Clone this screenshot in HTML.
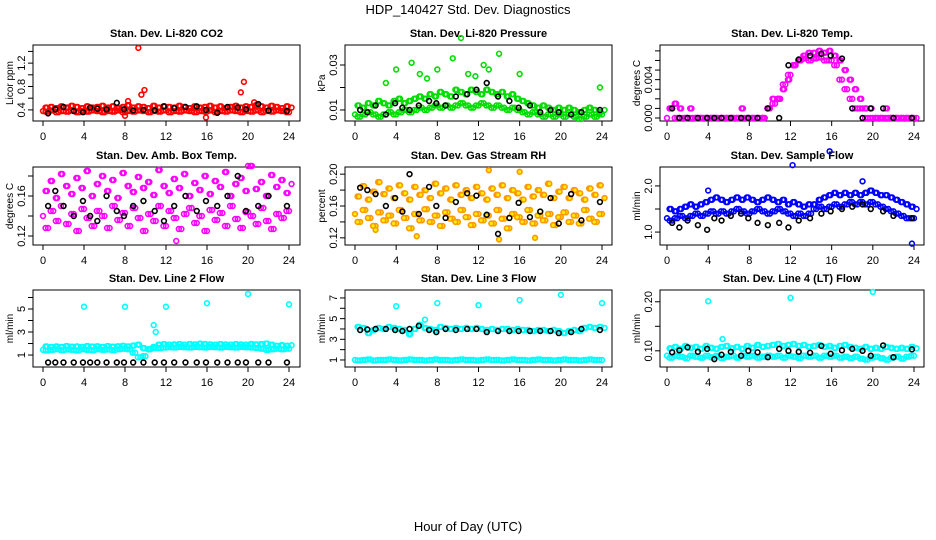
<!DOCTYPE html>
<html><head><meta charset="utf-8"><style>
html,body{margin:0;padding:0;background:#fff;}
svg{display:block;font-family:"Liberation Sans",sans-serif;}
</style></head><body>
<svg id="chart" width="936" height="540" viewBox="0 0 936 540" xmlns="http://www.w3.org/2000/svg">
<text x="468" y="14" text-anchor="middle" font-size="13">HDP_140427  Std. Dev. Diagnostics</text>
<text x="468" y="531" text-anchor="middle" font-size="13">Hour of Day (UTC)</text>
</svg>
<script>
const xTicks = [0,4,8,12,16,20,24];
const hrs = [0,0.5,1,1.5,2,2.5,3,3.5,4,4.5,5,5.5,6,6.5,7,7.5,8,8.5,9,9.5,10,10.5,11,11.5,12,12.5,13,13.5,14,14.5,15,15.5,16,16.5,17,17.5,18,18.5,19,19.5,20,20.5,21,21.5,22,22.5,23,23.5,24];
const kHrs = [0.5,1.2,2,3,3.9,4.6,5.3,6.2,7.2,7.9,8.8,9.8,10.9,11.8,12.8,13.9,15,15.9,17,18,19,19.8,21,22,23.8];

const co2Hi = [0.44,0.45,0.43,0.46,0.44,0.47,0.45,0.43,0.46,0.44,0.45,0.47,0.44,0.46,0.43,0.45,0.48,0.44,0.46,0.45,0.43,0.47,0.44,0.46,0.45,0.44,0.47,0.45,0.43,0.46,0.44,0.45,0.47,0.44,0.46,0.43,0.45,0.47,0.44,0.46,0.45,0.48,0.46,0.44,0.47,0.45,0.43,0.46,0.44];
const co2Lo = [0.38,0.37,0.39,0.36,0.38,0.37,0.39,0.36,0.38,0.37,0.39,0.38,0.36,0.38,0.37,0.39,0.36,0.38,0.37,0.39,0.38,0.36,0.38,0.37,0.39,0.36,0.38,0.37,0.39,0.38,0.36,0.38,0.37,0.39,0.36,0.38,0.37,0.39,0.38,0.36,0.38,0.37,0.39,0.36,0.38,0.37,0.39,0.38,0.36];
const co2Black = [0.34,0.41,0.45,0.38,0.36,0.44,0.42,0.41,0.52,0.41,0.39,0.40,0.39,0.46,0.43,0.45,0.46,0.40,0.35,0.45,0.44,0.41,0.50,0.39,0.38];
const co2Out = [[9.3,1.46],[9.6,0.66],[9.9,0.74],[19.3,0.70],[19.6,0.88],[8.0,0.30],[15.9,0.27],[8.3,0.55],[20.6,0.53]];

const presHi = [.012,.011,.013,.012,.014,.013,.012,.014,.015,.013,.014,.015,.016,.015,.017,.016,.018,.017,.016,.019,.018,.017,.019,.018,.017,.019,.018,.017,.018,.016,.017,.015,.014,.013,.012,.011,.012,.011,.010,.011,.010,.011,.010,.009,.010,.011,.010,.009,.010];
const presLo = [.008,.007,.008,.009,.008,.007,.008,.009,.008,.009,.010,.009,.010,.011,.010,.011,.012,.011,.012,.011,.012,.013,.012,.011,.012,.013,.012,.011,.012,.011,.010,.011,.010,.009,.008,.009,.008,.007,.008,.007,.008,.007,.008,.007,.006,.007,.008,.007,.008];
const presBlack = [.010,.009,.012,.008,.013,.011,.010,.012,.014,.013,.012,.016,.017,.019,.022,.016,.014,.011,.012,.009,.010,.009,.008,.009,.010];
const presOut = [[4,0.028],[5.5,0.031],[8,0.028],[10.3,0.042],[9.5,0.033],[11,0.026],[12.5,0.030],[14,0.035],[16,0.026],[3,0.022],[7,0.024],[13,0.028],[23.8,0.020],[11.7,0.025],[6.3,0.026]];

const tempHi = [.001,.0015,.001,0,.001,0,0,0,0,0,0,0,0,0,.001,0,0,0,0,.001,.002,.002,.003,.004,.0055,.006,.0065,.0068,.0068,.007,.0068,.007,.0065,.006,.005,.004,.003,.002,.001,.001,0,0,.001,0,0,0,0,0,0];
const tempLo = [0,.001,0,0,0,0,0,0,0,0,0,0,0,0,0,0,0,0,0,0,.001,.0015,.002,.0035,.0045,.0055,.006,.0062,.006,.0062,.0063,.006,.006,.0055,.004,.003,.002,.001,.001,0,0,0,0,0,0,0,0,0,0];
const tempBlack = [.001,0,0,0,0,0,0,0,0,0,0,.001,0,.0055,.0061,.0065,.0067,.0065,.0062,.001,0,.001,.001,0,0];
const tempOut = [];

const ambHi = [.165,.175,.158,.182,.17,.162,.178,.168,.185,.16,.172,.18,.165,.176,.158,.183,.17,.164,.179,.168,.174,.161,.186,.17,.163,.177,.168,.182,.16,.173,.166,.18,.162,.175,.169,.184,.16,.172,.178,.165,.19,.167,.174,.16,.181,.169,.176,.163,.172];
const ambLo = [.14,.128,.145,.135,.15,.132,.142,.125,.147,.138,.13,.145,.14,.128,.15,.136,.143,.13,.148,.138,.125,.142,.135,.15,.13,.145,.138,.127,.142,.148,.133,.14,.125,.146,.136,.143,.13,.15,.137,.128,.144,.14,.132,.148,.135,.127,.142,.138,.145];
const ambBlack = [.15,.165,.15,.14,.155,.14,.135,.16,.145,.14,.15,.155,.145,.135,.15,.16,.145,.155,.15,.16,.18,.145,.15,.16,.15];
const ambOut = [[13,0.115],[20,0.19]];

const rhHi = [.172,.185,.168,.178,.19,.175,.182,.17,.186,.176,.168,.184,.174,.18,.17,.188,.176,.182,.168,.186,.174,.18,.17,.184,.176,.168,.182,.174,.186,.17,.18,.176,.168,.184,.172,.18,.174,.188,.17,.178,.184,.17,.18,.176,.168,.182,.174,.186,.17];
const rhLo = [.15,.14,.155,.145,.135,.152,.142,.148,.138,.155,.145,.132,.15,.142,.156,.14,.148,.135,.152,.144,.14,.155,.146,.136,.15,.142,.148,.138,.155,.144,.132,.15,.146,.14,.155,.138,.148,.142,.15,.136,.146,.152,.14,.148,.138,.155,.144,.14,.15];
const rhBlack = [.183,.18,.175,.16,.17,.153,.2,.15,.184,.16,.145,.165,.176,.173,.149,.125,.145,.164,.146,.153,.17,.138,.175,.142,.165];
const rhOut = [[13,0.205],[2,0.13],[16,0.203],[17.5,0.12],[14,0.118],[6,0.122]];

const flowHi = [1.5,1.45,1.5,1.55,1.6,1.55,1.6,1.65,1.7,1.75,1.7,1.65,1.7,1.75,1.7,1.75,1.7,1.65,1.7,1.75,1.7,1.65,1.7,1.6,1.65,1.6,1.55,1.6,1.6,1.7,1.75,1.8,1.85,1.8,1.85,1.8,1.85,1.8,1.85,1.9,1.85,1.8,1.8,1.75,1.7,1.65,1.6,1.55,1.5];
const flowLo = [1.3,1.25,1.3,1.35,1.3,1.35,1.4,1.35,1.4,1.45,1.4,1.45,1.4,1.45,1.5,1.45,1.4,1.45,1.5,1.45,1.4,1.45,1.5,1.45,1.4,1.35,1.4,1.35,1.4,1.5,1.55,1.5,1.55,1.6,1.55,1.6,1.65,1.6,1.65,1.6,1.65,1.6,1.55,1.5,1.45,1.4,1.35,1.3,1.3];
const flowBlack = [1.2,1.1,1.25,1.15,1.05,1.3,1.25,1.35,1.4,1.3,1.2,1.15,1.2,1.1,1.25,1.3,1.4,1.45,1.5,1.55,1.6,1.5,1.45,1.35,1.3];
const flowOut = [[15.8,2.75],[12.2,2.45],[19,2.1],[4,1.9],[23.8,0.75]];

const l2Hi = [1.75,1.7,1.75,1.7,1.78,1.72,1.75,1.7,1.78,1.74,1.76,1.7,1.78,1.72,1.76,1.8,1.75,1.82,1.9,1.6,1.5,1.7,1.9,1.95,1.9,1.92,1.95,1.9,1.95,1.92,1.98,1.95,1.92,1.9,1.95,1.92,1.9,1.95,1.92,1.9,1.95,1.92,1.95,2.0,1.9,1.8,1.85,1.8,1.85];
const l2Lo = [1.45,1.4,1.45,1.5,1.42,1.48,1.45,1.4,1.5,1.45,1.42,1.5,1.45,1.48,1.42,1.5,1.55,1.5,1.2,0.8,0.9,1.5,1.6,1.6,1.65,1.68,1.65,1.7,1.68,1.65,1.7,1.68,1.65,1.7,1.68,1.65,1.7,1.68,1.65,1.7,1.68,1.65,1.62,1.55,1.45,1.5,1.55,1.5,1.55];
const l2Black = [0.35,0.35,0.35,0.35,0.35,0.35,0.35,0.35,0.35,0.35,0.35,0.35,0.35,0.35,0.35,0.35,0.35,0.35,0.35,0.35,0.35,0.35,0.35,0.35,0.35];
const l2Out = [[4,5.2],[8,5.2],[12,5.2],[16,5.5],[20,6.3],[24,5.4],[10.8,3.6],[11,3.0]];

const l3Hi = [4.2,4.1,3.6,3.9,4.1,4.0,4.2,4.1,4.0,3.9,3.5,4.0,4.4,4.1,4.0,3.9,4.2,4.1,4.0,4.1,4.0,4.1,4.0,4.1,4.0,3.9,4.0,3.9,4.0,4.0,3.9,4.0,3.9,3.9,3.8,3.9,3.9,3.8,3.9,3.8,3.6,3.8,3.9,3.8,4.1,4.2,4.1,4.2,4.1];
const l3Lo = [1.0,0.95,1.0,1.05,0.95,1.0,1.0,1.05,1.0,0.95,1.0,1.05,1.0,1.0,0.95,1.0,1.05,1.0,1.0,0.95,1.0,1.05,1.0,1.0,0.95,1.0,1.05,1.0,1.0,0.95,1.0,1.05,1.0,1.0,0.95,1.0,1.05,1.0,1.0,0.95,1.0,1.05,1.0,1.0,0.95,1.0,1.05,1.0,1.0];
const l3Black = [3.9,3.95,4.0,4.0,3.9,3.8,4.0,4.3,3.9,3.7,4.0,3.9,4.0,4.0,3.7,3.8,3.8,3.8,3.8,3.8,3.8,3.6,3.7,4.0,3.9];
const l3Out = [[4,6.2],[8,6.5],[12,6.3],[16,6.8],[20,7.3],[24,6.5],[6.8,4.9]];

const l4Hi = [0.105,0.108,0.104,0.11,0.106,0.108,0.104,0.11,0.106,0.104,0.108,0.11,0.105,0.108,0.104,0.11,0.106,0.112,0.108,0.11,0.112,0.114,0.11,0.112,0.114,0.11,0.112,0.108,0.11,0.112,0.108,0.11,0.106,0.11,0.112,0.108,0.106,0.104,0.108,0.104,0.106,0.104,0.108,0.106,0.104,0.106,0.104,0.108,0.105];
const l4Lo = [0.09,0.086,0.09,0.088,0.085,0.09,0.088,0.086,0.09,0.087,0.09,0.085,0.088,0.09,0.086,0.09,0.088,0.09,0.086,0.088,0.09,0.088,0.09,0.086,0.09,0.088,0.085,0.09,0.088,0.09,0.086,0.09,0.088,0.09,0.086,0.088,0.085,0.088,0.084,0.082,0.086,0.088,0.085,0.082,0.086,0.088,0.084,0.088,0.09];
const l4Black = [0.097,0.101,0.107,0.098,0.104,0.083,0.092,0.098,0.09,0.1,0.097,0.087,0.104,0.1,0.098,0.096,0.11,0.094,0.101,0.104,0.1,0.09,0.111,0.087,0.103];
const l4Out = [[4,0.201],[12,0.208],[20,0.22],[5.4,0.124]];

const cols = [{l:33,r:300,x0:43,x1:289},{l:345,r:612,x0:355,x1:602},{l:660,r:924,x0:667,x1:914}];
const rows = [{t:45,b:121},{t:167,b:245},{t:290,b:367}];

const panels = [
 {name:'co2',title:'Stan. Dev. Li-820 CO2',ylab:'Licor ppm',c:0,r:0,ymin:0.21,ymax:1.51,ticks:[0.4,0.6,0.8,1.0,1.2,1.4],labels:[0.4,0.8,1.2],dec:1,col:'#ff0000',hi:co2Hi,lo:co2Lo,k:co2Black,out:co2Out},
 {name:'pressure',title:'Stan. Dev. Li-820 Pressure',ylab:'kPa',c:1,r:0,ymin:0.0051,ymax:0.0389,ticks:[0.01,0.02,0.03],labels:[0.01,0.03],dec:2,col:'#00dd00',hi:presHi,lo:presLo,k:presBlack,out:presOut},
 {name:'temp',title:'Stan. Dev. Li-820 Temp.',ylab:'degrees C',c:2,r:0,ymin:0,ymax:0.0073,ticks:[0,0.001,0.002,0.003,0.004,0.005,0.006,0.007],labels:[0,0.004],dec:3,col:'#ff00ff',hi:tempHi,lo:tempLo,k:tempBlack,out:tempOut,ypad:3},
 {name:'amb-temp',title:'Stan. Dev. Amb. Box Temp.',ylab:'degrees C',c:0,r:1,ymin:0.111,ymax:0.189,ticks:[0.12,0.14,0.16,0.18],labels:[0.12,0.16],dec:2,col:'#ff00ff',hi:ambHi,lo:ambLo,k:ambBlack,out:ambOut},
 {name:'rh',title:'Stan. Dev. Gas Stream RH',ylab:'percent',c:1,r:1,ymin:0.111,ymax:0.209,ticks:[0.12,0.14,0.16,0.18,0.20],labels:[0.12,0.16,0.20],dec:2,col:'#ff9900',fill:'#ffee00',hi:rhHi,lo:rhLo,k:rhBlack,out:rhOut},
 {name:'sample-flow',title:'Stan. Dev. Sample Flow',ylab:'ml/min',c:2,r:1,ymin:0.72,ymax:2.41,ticks:[1.0,1.5,2.0],labels:[1.0,2.0],dec:1,col:'#0000ff',hi:flowHi,lo:flowLo,k:flowBlack,out:flowOut},
 {name:'line2-flow',title:'Stan. Dev. Line 2 Flow',ylab:'ml/min',c:0,r:2,ymin:-0.04,ymax:6.65,ticks:[1,2,3,4,5,6],labels:[1,3,5],dec:0,col:'#00ffff',hi:l2Hi,lo:l2Lo,k:l2Black,out:l2Out},
 {name:'line3-flow',title:'Stan. Dev. Line 3 Flow',ylab:'ml/min',c:1,r:2,ymin:0.32,ymax:7.77,ticks:[1,2,3,4,5,6,7],labels:[1,3,5,7],dec:0,col:'#00ffff',hi:l3Hi,lo:l3Lo,k:l3Black,out:l3Out},
 {name:'line4-flow',title:'Stan. Dev. Line 4 (LT) Flow',ylab:'ml/min',c:2,r:2,ymin:0.067,ymax:0.224,ticks:[0.10,0.15,0.20],labels:[0.10,0.20],dec:2,col:'#00ffff',hi:l4Hi,lo:l4Lo,k:l4Black,out:l4Out}
];

const NS='http://www.w3.org/2000/svg';
const svg=document.getElementById('chart');
function mk(tag,attrs,parent){const e=document.createElementNS(NS,tag);for(const k in attrs)e.setAttribute(k,attrs[k]);(parent||svg).appendChild(e);return e;}

panels.forEach(p=>{
  const C=cols[p.c],R=rows[p.r];
  const g=mk('g',{});
  
  
  const xs=h=>C.x0+(h/24)*(C.x1-C.x0);
  const yt=R.t+(p.ypad||0), yb=R.b-(p.ypad||0);
  const ys=v=>yb-(v-p.ymin)/(p.ymax-p.ymin)*(yb-yt);
  const box=mk('rect',{x:C.l,y:R.t,width:C.r-C.l,height:R.b-R.t,fill:'none',stroke:'#000','stroke-width':1},g);
  
  
  const t=mk('text',{x:(C.l+C.r)/2,y:R.t-8,'text-anchor':'middle','font-size':11,'font-weight':'bold'},g);
  t.textContent=p.title;
  
  
  const yl=mk('text',{x:0,y:0,'text-anchor':'middle','font-size':10,transform:`translate(${C.l-20},${(R.t+R.b)/2}) rotate(-90)`},g);
  yl.textContent=p.ylab;
  
  
  xTicks.forEach(v=>{
    const x=xs(v);
    mk('line',{x1:x,x2:x,y1:R.b,y2:R.b+5,stroke:'#000'},g);
    const tl=mk('text',{x:x,y:R.b+19,'text-anchor':'middle','font-size':11},g);
    tl.textContent=v;
    
    
  });
  p.ticks.forEach(v=>{
    const y=ys(v);
    mk('line',{x1:C.l,x2:C.l-5,y1:y,y2:y,stroke:'#000'},g);
  });
  p.labels.forEach(v=>{
    const y=ys(v);
    const tl=mk('text',{x:0,y:0,'text-anchor':'middle','font-size':11,transform:`translate(${C.l-8},${y}) rotate(-90)`},g);
    tl.textContent=v.toFixed(p.dec);
    
    
  });
  const pts=mk('g',{},g);
  
  
  const dot=(h,v,color)=>{
    const c=mk('circle',{cx:xs(h),cy:ys(v),r:2.4,fill:p.fill&&color!=='#000'?p.fill:'none',stroke:color,'stroke-width':1.6},pts);
    
    
  };
  hrs.forEach((h,i)=>{dot(h,p.lo[i],p.col);});
  hrs.forEach((h,i)=>{if(h<24) dot(h+0.25,p.lo[i+1]!==undefined?p.lo[i+1]:p.lo[i],p.col);});
  hrs.forEach((h,i)=>{dot(h+0.25,p.hi[i],p.col);});
  hrs.forEach((h,i)=>{if(h<24) dot(h+0.5-0.12,p.hi[i],p.col);});
  p.out.forEach(o=>dot(o[0],o[1],p.col));
  kHrs.forEach((h,i)=>dot(h,p.k[i],'#000'));
});
</script>
</body></html>
